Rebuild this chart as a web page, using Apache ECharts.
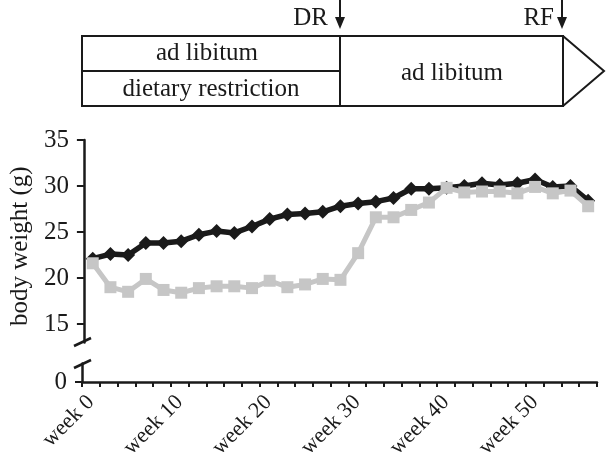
<!DOCTYPE html>
<html>
<head>
<meta charset="utf-8">
<script src="https://cdn.jsdelivr.net/npm/echarts@6/dist/echarts.min.js"></script>
<style>html,body{margin:0;padding:0;background:#fff}#c{width:606px;height:466px}</style>
</head>
<body>
<div id="c"></div>
<script>
// Categories: one per 2 weeks
var weeks = ["week 0","week 2","week 4","week 6","week 8","week 10","week 12","week 14","week 16","week 18",
  "week 20","week 22","week 24","week 26","week 28","week 30","week 32","week 34","week 36","week 38",
  "week 40","week 42","week 44","week 46","week 48","week 50","week 52","week 54","week 56"];
// ad libitum (black diamonds)
var adLibitum = [22.1,22.6,22.5,23.8,23.8,24.0,24.7,25.1,24.9,25.6,26.4,26.9,27.0,27.2,27.8,28.1,28.3,28.7,29.7,29.7,29.8,30.0,30.3,30.1,30.3,30.7,29.9,30.0,28.4];
// dietary restriction then ad libitum (grey squares)
var dietaryRestriction = [21.6,19.0,18.5,19.9,18.7,18.4,18.9,19.1,19.1,18.9,19.7,19.0,19.3,19.9,19.8,22.7,26.6,26.6,27.4,28.2,29.8,29.3,29.4,29.4,29.2,29.9,29.2,29.5,27.8];
var yTicksUpper = [15,20,25,30,35];
var yTicksLower = [0];

var FONT = 'Liberation Serif';
var chart = echarts.init(document.getElementById('c'), null, {renderer:'canvas'});
var axisLineStyle = {color:'#1a1a1a', width:2.5};
var TXT = '25px "Liberation Serif"';

chart.setOption({
  animation:false,
  backgroundColor:'#fff',
  grid:[
    {left:82, right:9, top:140, height:202.4},
    {left:82, right:9, top:363.6, height:18.4}
  ],
  xAxis:[
    {gridIndex:0, type:'category', data:weeks, boundaryGap:true, show:false},
    {gridIndex:1, type:'category', data:weeks, boundaryGap:true,
      axisLine:{lineStyle:axisLineStyle},
      axisTick:{show:true, interval:0, length:5, lineStyle:{color:'#1a1a1a', width:2}},
      axisLabel:{interval:4, rotate:45, margin:17, fontFamily:FONT, fontSize:22, color:'#1a1a1a'}
    }
  ],
  yAxis:[
    {gridIndex:0, type:'value', min:13, max:35,
      name:'body weight (g)', nameLocation:'middle', nameGap:49, nameRotate:90,
      nameTextStyle:{fontFamily:FONT, fontSize:25, color:'#1a1a1a', padding:[0,10,0,0]},
      axisLine:{show:true, lineStyle:axisLineStyle},
      axisTick:{show:true, customValues:yTicksUpper, length:7, lineStyle:{color:'#1a1a1a', width:2}},
      axisLabel:{customValues:yTicksUpper, fontFamily:FONT, fontSize:25, color:'#1a1a1a', margin:15},
      splitLine:{show:false}
    },
    {gridIndex:1, type:'value', min:0, max:2,
      axisLine:{show:true, lineStyle:axisLineStyle},
      axisTick:{show:true, customValues:yTicksLower, length:7, lineStyle:{color:'#1a1a1a', width:2}},
      axisLabel:{customValues:yTicksLower, fontFamily:FONT, fontSize:25, color:'#1a1a1a', margin:15},
      splitLine:{show:false}
    }
  ],
  series:[
    {type:'line', name:'ad libitum', xAxisIndex:0, yAxisIndex:0, data:adLibitum, z:2,
      symbol:'diamond', symbolSize:[14,14], showAllSymbol:true,
      lineStyle:{color:'#1a1a1a', width:5.5}, itemStyle:{color:'#1a1a1a'}},
    {type:'line', name:'dietary restriction', xAxisIndex:0, yAxisIndex:0, data:dietaryRestriction, z:3,
      symbol:'rect', symbolSize:12, showAllSymbol:true,
      lineStyle:{color:'#c6c6c6', width:5}, itemStyle:{color:'#c6c6c6'}}
  ],
  graphic:[
    // axis break slashes
    {type:'line', shape:{x1:74,y1:346,x2:91,y2:338}, style:{stroke:'#1a1a1a', lineWidth:2.5}},
    {type:'line', shape:{x1:74,y1:368,x2:91,y2:360}, style:{stroke:'#1a1a1a', lineWidth:2.5}},
    // timeline diagram
    {type:'rect', shape:{x:82,y:36,width:481,height:70}, style:{fill:'#fff', stroke:'#1a1a1a', lineWidth:2}},
    {type:'line', shape:{x1:82,y1:71,x2:340,y2:71}, style:{stroke:'#1a1a1a', lineWidth:2}},
    {type:'line', shape:{x1:340,y1:36,x2:340,y2:106}, style:{stroke:'#1a1a1a', lineWidth:2}},
    {type:'polyline', shape:{points:[[563,36],[604,71],[563,106]]}, style:{fill:null, stroke:'#1a1a1a', lineWidth:2}},
    {type:'text', x:207, y:53, style:{text:'ad libitum', font:TXT, fill:'#1a1a1a', align:'center', verticalAlign:'middle'}},
    {type:'text', x:211, y:89, style:{text:'dietary restriction', font:TXT, fill:'#1a1a1a', align:'center', verticalAlign:'middle'}},
    {type:'text', x:452, y:73, style:{text:'ad libitum', font:TXT, fill:'#1a1a1a', align:'center', verticalAlign:'middle'}},
    {type:'text', x:328, y:18, style:{text:'DR', font:TXT, fill:'#1a1a1a', align:'right', verticalAlign:'middle'}},
    {type:'text', x:554, y:18, style:{text:'RF', font:TXT, fill:'#1a1a1a', align:'right', verticalAlign:'middle'}},
    {type:'line', shape:{x1:340,y1:0,x2:340,y2:24}, style:{stroke:'#1a1a1a', lineWidth:2}},
    {type:'polygon', shape:{points:[[335,17],[345,17],[340,29]]}, style:{fill:'#1a1a1a'}},
    {type:'line', shape:{x1:562,y1:0,x2:562,y2:24}, style:{stroke:'#1a1a1a', lineWidth:2}},
    {type:'polygon', shape:{points:[[557,17],[567,17],[562,29]]}, style:{fill:'#1a1a1a'}}
  ]
});
</script>
</body>
</html>
